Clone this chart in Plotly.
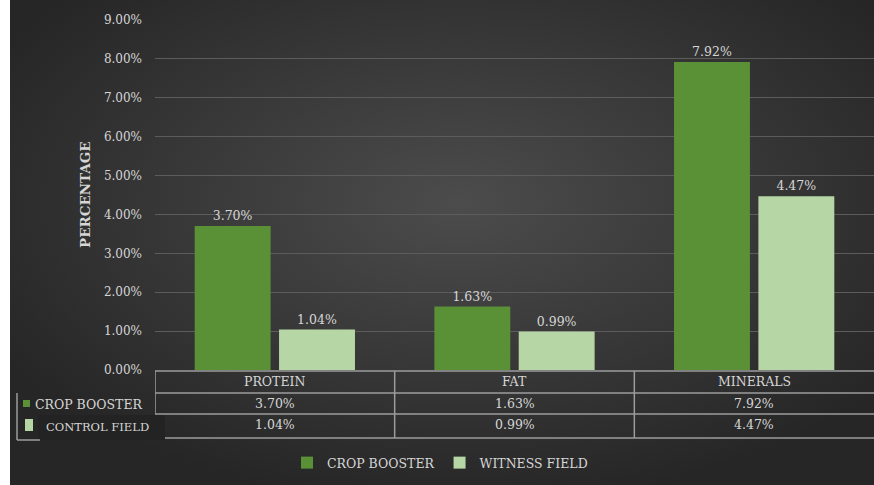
import base64
import plotly.graph_objects as go

categories = ["PROTEIN", "FAT", "MINERALS"]
crop_booster = [3.70, 1.63, 7.92]
witness_field = [1.04, 0.99, 4.47]
series_names = ["CROP BOOSTER", "WITNESS FIELD"]
table_row_labels = ["CROP BOOSTER", "CONTROL FIELD"]
y_ticks = [0, 1, 2, 3, 4, 5, 6, 7, 8, 9]

W, H = 874, 485
L, R, T, B = 155, 0, 20, 115
PW, PH = W - L - R, H - T - B

def px_x(px):
    return (px - L) / PW

def px_y(py):
    return (H - B - py) / PH

GREEN = "#5a9036"
LIGHT = "#b7d6a6"
TXT = "#d6d6d6"
FONT = "DejaVu Serif"
LINE = "#9c9c9c"
FS = 12.5

svg = (
    '<svg xmlns="http://www.w3.org/2000/svg" width="864" height="485" viewBox="0 0 864 485" preserveAspectRatio="none">'
    '<defs><radialGradient id="g" cx="52%" cy="42%" r="62%">'
    '<stop offset="0%" stop-color="#4c4c4c"/><stop offset="100%" stop-color="#262626"/>'
    '</radialGradient></defs><rect width="864" height="485" fill="url(#g)"/></svg>'
)
bg_src = "data:image/svg+xml;base64," + base64.b64encode(svg.encode()).decode()

fig = go.Figure()
fig.add_trace(go.Bar(
    x=categories, y=crop_booster, name=series_names[0],
    marker=dict(color=GREEN, line=dict(width=0)),
    texttemplate="%{y:.2f}%", textposition="outside",
    textfont=dict(family=FONT, size=FS, color=TXT), cliponaxis=False,
))
fig.add_trace(go.Bar(
    x=categories, y=witness_field, name=series_names[1],
    marker=dict(color=LIGHT, line=dict(width=0)),
    texttemplate="%{y:.2f}%", textposition="outside",
    textfont=dict(family=FONT, size=FS, color=TXT), cliponaxis=False,
))

annotations = []
shapes = []

def ann(x, y, text, xref="paper", xanchor="center", **kw):
    d = dict(x=x, y=y, xref=xref, yref="paper", text=text, showarrow=False,
             xanchor=xanchor, yanchor="middle",
             font=dict(family=FONT, size=FS, color=TXT))
    d.update(kw)
    annotations.append(d)

# y axis title
ann(px_x(85), px_y(195), "<b>PERCENTAGE</b>", textangle=-90,
    font=dict(family=FONT, size=13.5, color=TXT))

# data table
row_y = [381, 403, 425]
for i, c in enumerate(categories):
    ann(c, px_y(row_y[0]), c, xref="x")
    ann(c, px_y(row_y[1]), f"{crop_booster[i]:.2f}%", xref="x")
    ann(c, px_y(row_y[2]), f"{witness_field[i]:.2f}%", xref="x")

def hline(py, x0, x1=1.0):
    shapes.append(dict(type="line", xref="paper", yref="paper",
                       x0=px_x(x0), x1=x1, y0=px_y(py), y1=px_y(py),
                       line=dict(color=LINE, width=1.5)))

hline(371, L)
hline(393, L)
hline(414, L)
hline(438, 165)
for xv, y0 in [(-0.5, 414), (0.5, 438), (1.5, 438)]:
    shapes.append(dict(type="line", xref="x", yref="paper",
                       x0=xv, x1=xv, y0=px_y(371), y1=px_y(y0),
                       line=dict(color=LINE, width=1.5)))
shapes.append(dict(type="line", xref="paper", yref="paper",
                   x0=px_x(17), x1=px_x(17), y0=px_y(393), y1=px_y(440),
                   line=dict(color=LINE, width=1.5)))
shapes.append(dict(type="line", xref="paper", yref="paper",
                   x0=px_x(17), x1=px_x(40), y0=px_y(440), y1=px_y(440),
                   line=dict(color=LINE, width=1.5)))
shapes.append(dict(type="rect", xref="paper", yref="paper",
                   x0=px_x(38), x1=px_x(165), y0=px_y(440), y1=px_y(415),
                   fillcolor="#232323", line=dict(width=0), layer="below"))
shapes.append(dict(type="rect", xref="paper", yref="paper",
                   x0=px_x(23), x1=px_x(30), y0=px_y(407), y1=px_y(400),
                   fillcolor=GREEN, line=dict(width=0)))
shapes.append(dict(type="rect", xref="paper", yref="paper",
                   x0=px_x(25), x1=px_x(33), y0=px_y(431), y1=px_y(419),
                   fillcolor=LIGHT, line=dict(width=0)))
ann(px_x(33), px_y(404), table_row_labels[0], xanchor="left",
    font=dict(family=FONT, size=12.5, color=TXT))
ann(px_x(44), px_y(427), table_row_labels[1], xanchor="left",
    font=dict(family=FONT, size=11.5, color=TXT))

fig.update_layout(
    width=W, height=H,
    margin=dict(l=L, r=R, t=T, b=B, pad=0),
    paper_bgcolor="white", plot_bgcolor="rgba(0,0,0,0)",
    barmode="group", bargap=0.296, bargroupgap=0.1,
    font=dict(family=FONT, size=FS, color=TXT),
    showlegend=True,
    legend=dict(orientation="h", x=px_x(440), y=px_y(463),
                xanchor="center", yanchor="middle",
                font=dict(family=FONT, size=12.5, color=TXT),
                bgcolor="rgba(0,0,0,0)", itemwidth=30, traceorder="normal"),
    xaxis=dict(showticklabels=False, showgrid=False, zeroline=False,
               showline=False, ticks="", range=[-0.5, 2.5]),
    yaxis=dict(range=[0, 9], tickvals=y_ticks,
               ticktext=[f"{v:.2f}%" for v in y_ticks],
               showgrid=True, gridcolor="#5c5c5c", gridwidth=1,
               zeroline=False, showline=False, ticks="",
               ticklabelstandoff=12,
               tickfont=dict(family=FONT, size=12, color=TXT)),
    annotations=annotations, shapes=shapes,
    images=[dict(source=bg_src, xref="paper", yref="paper",
                 x=px_x(10), y=px_y(0), sizex=(W - 10) / PW, sizey=H / PH,
                 xanchor="left", yanchor="top", sizing="stretch",
                 layer="below")],
)

fig.write_html("out.html")
